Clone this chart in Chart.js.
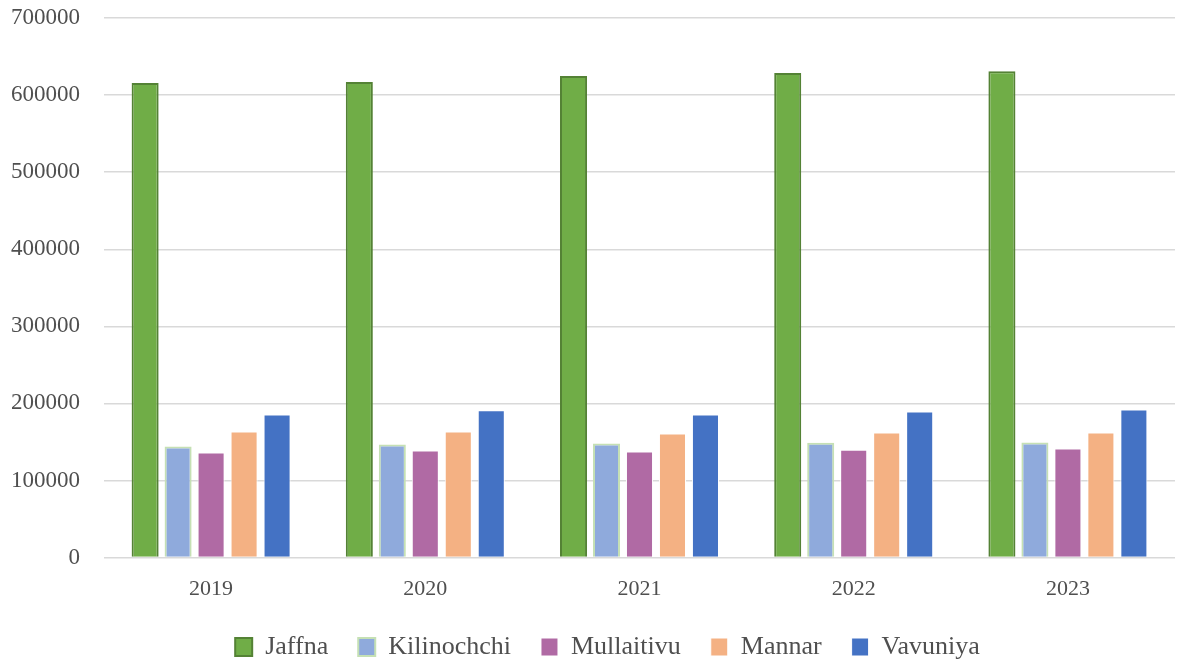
<!DOCTYPE html>
<html>
<head>
<meta charset="utf-8">
<script src="https://cdn.jsdelivr.net/npm/chart.js@4"></script>
<style>
  html, body { margin: 0; padding: 0; background: #fff; }
  #wrap { width: 1182px; height: 664px; }
</style>
</head>
<body>
<div id="wrap"><canvas id="chart-pop" width="1182" height="664"></canvas></div>
<script>
  const years = ["2019", "2020", "2021", "2022", "2023"];
  const jaffna = [615600, 617000, 624700, 628600, 631000];
  const kilinochchi = [144200, 146700, 148000, 149000, 149400];
  const mullaitivu = [136400, 139000, 137700, 140000, 141500];
  const mannar = [163600, 163600, 161000, 162300, 162300];
  const vavuniya = [185700, 191000, 185700, 189600, 192200];
  const yTicks = [0, 100000, 200000, 300000, 400000, 500000, 600000, 700000];

  const serif = "'Liberation Serif', 'Times New Roman', serif";
  const textGrey = "#4f4f4f";

  // legend padding is used both across and down; take some height back
  // and draw the row a bit higher (and a bit right) so it sits where the original has it
  const legendTrim = {
    id: "legendTrim",
    afterInit(chart) {
      const lg = chart.legend;
      if (!lg || lg.__trimmed) return;
      lg.__trimmed = true;
      const fit = lg.fit;
      const draw = lg.draw;
      lg.fit = function () { fit.call(this); this.height -= 22; };
      lg.draw = function () {
        const { top, left, right } = this;
        this.top = top - 16;
        this.left = left + 20;
        this.right = right + 20;
        draw.apply(this, arguments);
        this.top = top;
        this.left = left;
        this.right = right;
      };
    }
  };

  const ctx = document.getElementById("chart-pop");
  new Chart(ctx, {
    type: "bar",
    data: {
      labels: years,
      datasets: [
        { label: "Jaffna", data: jaffna, backgroundColor: "#70ad47", borderColor: "#548235", borderWidth: 2 },
        { label: "Kilinochchi", data: kilinochchi, backgroundColor: "#8faadc", borderColor: "#c5e0b4", borderWidth: 2 },
        { label: "Mullaitivu", data: mullaitivu, backgroundColor: "#b06aa4", borderColor: "#ffffff", borderWidth: 1 },
        { label: "Mannar", data: mannar, backgroundColor: "#f4b183", borderColor: "#ffffff", borderWidth: 1 },
        { label: "Vavuniya", data: vavuniya, backgroundColor: "#4472c4", borderColor: "#ffffff", borderWidth: 1 }
      ]
    },
    plugins: [legendTrim],
    options: {
      responsive: false,
      animation: false,
      layout: { padding: { top: 18, right: 7, left: 0, bottom: 0 } },
      datasets: { bar: { categoryPercentage: 0.77, barPercentage: 0.82 } },
      plugins: {
        tooltip: { enabled: false },
        legend: {
          position: "bottom",
          labels: {
            color: textGrey,
            font: { family: serif, size: 26 },
            boxWidth: 17,
            boxHeight: 18,
            padding: 30
          }
        }
      },
      scales: {
        x: {
          grid: { display: false, drawTicks: false },
          border: { display: false },
          ticks: { color: textGrey, font: { family: serif, size: 22 }, padding: 18 }
        },
        y: {
          min: 0,
          max: 700000,
          afterBuildTicks: (axis) => { axis.ticks = yTicks.map(v => ({ value: v })); },
          afterFit: (axis) => { axis.width = 104; },
          grid: { color: "#d9d9d9", lineWidth: 1.5, drawTicks: true, tickLength: 24, tickColor: "rgba(0,0,0,0)" },
          border: { display: false },
          ticks: {
            color: textGrey,
            font: { family: serif, size: 23 },
            padding: 0,
            callback: (v) => String(v)
          }
        }
      }
    }
  });
</script>
</body>
</html>
